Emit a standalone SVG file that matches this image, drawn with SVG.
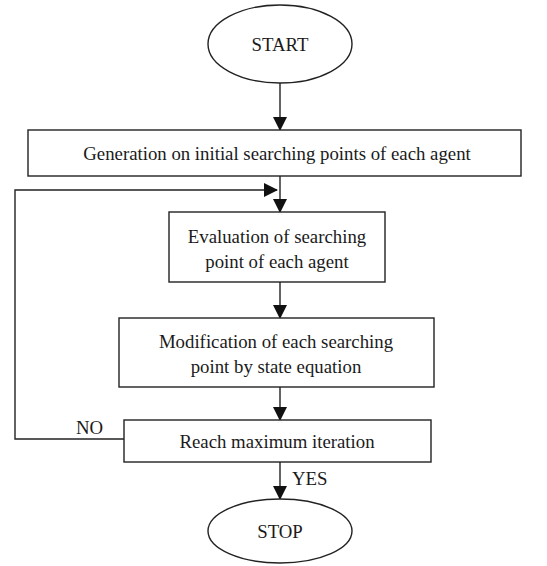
<svg xmlns="http://www.w3.org/2000/svg" width="547" height="566" viewBox="0 0 547 566">
<style>
.n{fill:#fff;stroke:#222;stroke-width:1.4}
.t{font-family:"Liberation Serif","Times New Roman",serif;font-size:18.8px;fill:#1a1a1a;text-anchor:middle}
.l{font-family:"Liberation Serif","Times New Roman",serif;font-size:18.8px;fill:#1a1a1a}
.c{fill:none;stroke:#222;stroke-width:1.4}
</style>
<defs>
<marker id="ah" markerWidth="14" markerHeight="14" refX="13" refY="7" orient="auto" markerUnits="userSpaceOnUse">
<path d="M0,0 L14,7 L0,14 Z" fill="#111"/>
</marker>
</defs>
<rect width="547" height="566" fill="#fff"/>
<g id="connectors">
<line class="c" x1="280" y1="83" x2="280" y2="130" marker-end="url(#ah)"/>
<line class="c" x1="280" y1="176" x2="280" y2="212" marker-end="url(#ah)"/>
<polyline class="c" points="124,439 15,439 15,190 277,190" marker-end="url(#ah)"/>
<line class="c" x1="280" y1="282" x2="280" y2="318" marker-end="url(#ah)"/>
<line class="c" x1="280" y1="387" x2="280" y2="420" marker-end="url(#ah)"/>
<line class="c" x1="280" y1="462" x2="280" y2="499" marker-end="url(#ah)"/>
<text class="l" x="76" y="434">NO</text>
<text class="l" x="292" y="485">YES</text>
</g>
<g id="start">
<ellipse class="n" cx="280" cy="44" rx="72" ry="39"/>
<text class="t" x="280" y="51">START</text>
</g>
<g id="generation">
<rect class="n" x="28" y="130" width="493" height="46"/>
<text class="t" x="277" y="160">Generation on initial searching points of each agent</text>
</g>
<g id="evaluation">
<rect class="n" x="169" y="212" width="216" height="70"/>
<text class="t" x="277" y="243">Evaluation of searching</text>
<text class="t" x="277" y="268">point of each agent</text>
</g>
<g id="modification">
<rect class="n" x="119" y="318" width="315" height="69"/>
<text class="t" x="276" y="348">Modification of each searching</text>
<text class="t" x="276" y="373">point by state equation</text>
</g>
<g id="reach">
<rect class="n" x="124" y="420" width="307" height="42"/>
<text class="t" x="277" y="448">Reach maximum iteration</text>
</g>
<g id="stop">
<ellipse class="n" cx="280" cy="531" rx="72" ry="32"/>
<text class="t" x="280" y="538">STOP</text>
</g>
</svg>
